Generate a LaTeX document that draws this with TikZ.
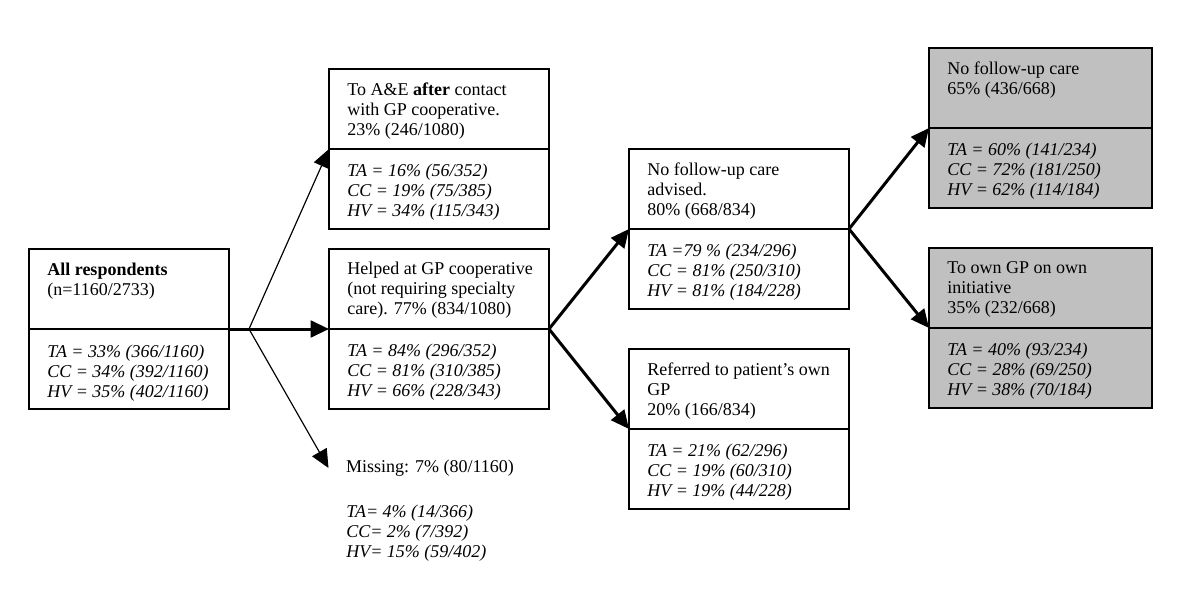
\documentclass[tikz,border=0pt]{standalone}
\usepackage{fontspec}
\setmainfont{Liberation Serif}
\usetikzlibrary{arrows.meta}
\definecolor{boxgray}{RGB}{192,192,192}
\begin{document}
\begin{tikzpicture}[x=0.6pt,y=-0.6pt,
  part/.style={draw, line width=1.6pt, rectangle, inner sep=0pt, outer sep=0pt, anchor=north west, minimum height=48pt},
  wA/.style={minimum width=120pt},
  wB/.style={minimum width=132pt},
  wC/.style={minimum width=133.8pt},
  shaded/.style={fill=boxgray},
  txt/.style={anchor=north west, inner sep=0pt, align=left, font=\fontsize{10.8}{12}\selectfont},
  itxt/.style={anchor=north west, inner sep=0pt, align=left, font=\fontsize{10.8}{12}\selectfont\itshape},
  thinarrow/.style={line width=0.7pt, -{Triangle[length=11pt,width=10pt]}},
  thickarrow/.style={line width=1.8pt, -{Triangle[length=11pt,width=10pt]}}
]
\useasboundingbox (0,0) rectangle (1200,599);

% All respondents
\node[part, wA] (b1u) at (29,249) {};
\node[part, wA] (b1l) at (b1u.south west) {};
\node[txt] (b1ut) at ([shift={(18,14)}]b1u.north west) {\textbf{All respondents}\\(n=1160/2733)};
\node[itxt] (b1lt) at ([shift={(18,16)}]b1l.north west) {TA = 33\% (366/1160)\\CC = 34\% (392/1160)\\HV = 35\% (402/1160)};

% To A&E
\node[part, wB] (aeu) at (329,69) {};
\node[part, wB] (ael) at (aeu.south west) {};
\node[txt] (aeut) at ([shift={(18,13)}]aeu.north west) {To A\&E \textbf{after} contact\\with GP cooperative.\\23\% (246/1080)};
\node[itxt] (aelt) at ([shift={(18,15)}]ael.north west) {TA = 16\% (56/352)\\CC = 19\% (75/385)\\HV = 34\% (115/343)};

% Helped
\node[part, wB] (hpu) at (329,249) {};
\node[part, wB] (hpl) at (hpu.south west) {};
\node[txt] (hput) at ([shift={(18,13)}]hpu.north west) {Helped at GP cooperative\\(not requiring specialty\\care). 77\% (834/1080)};
\node[itxt] (hplt) at ([shift={(18,15)}]hpl.north west) {TA = 84\% (296/352)\\CC = 81\% (310/385)\\HV = 66\% (228/343)};

% Missing
\node[txt, anchor=west, outer sep=10.5pt] (miss) at (328.5,468) {Missing: 7\% (80/1160)};
\node[itxt] (misst) at (346,505) {TA= 4\% (14/366)\\CC= 2\% (7/392)\\HV= 15\% (59/402)};

% No follow-up care advised
\node[part, wB] (nfu) at (629,149) {};
\node[part, wB] (nfl) at (nfu.south west) {};
\node[txt] (nfut) at ([shift={(18,13)}]nfu.north west) {No follow-up care\\advised.\\80\% (668/834)};
\node[itxt] (nflt) at ([shift={(18,15)}]nfl.north west) {TA =79 \% (234/296)\\CC = 81\% (250/310)\\HV = 81\% (184/228)};

% Referred
\node[part, wB] (rfu) at (629,349) {};
\node[part, wB] (rfl) at (rfu.south west) {};
\node[txt] (rfut) at ([shift={(18,13)}]rfu.north west) {Referred to patient’s own\\GP\\20\% (166/834)};
\node[itxt] (rflt) at ([shift={(18,15)}]rfl.north west) {TA = 21\% (62/296)\\CC = 19\% (60/310)\\HV = 19\% (44/228)};

% Gray: No follow-up care
\node[part, wC, shaded] (g1u) at (929,48) {};
\node[part, wC, shaded] (g1l) at (g1u.south west) {};
\node[txt] (g1ut) at ([shift={(18,13)}]g1u.north west) {No follow-up care\\65\% (436/668)};
\node[itxt] (g1lt) at ([shift={(18,15)}]g1l.north west) {TA = 60\% (141/234)\\CC = 72\% (181/250)\\HV = 62\% (114/184)};

% Gray: To own GP
\node[part, wC, shaded] (g2u) at (929,248) {};
\node[part, wC, shaded] (g2l) at (g2u.south west) {};
\node[txt] (g2ut) at ([shift={(18,13)}]g2u.north west) {To own GP on own\\initiative\\35\% (232/668)};
\node[itxt] (g2lt) at ([shift={(18,15)}]g2l.north west) {TA = 40\% (93/234)\\CC = 28\% (69/250)\\HV = 38\% (70/184)};

% connectors
\coordinate (j) at (249,329);
\draw[thickarrow] (b1u.south east) -- (hpu.south west);
\draw[thinarrow] (j) -- (aeu.south west);
\draw[thinarrow] (j) -- (miss.west);
\draw[thickarrow] (hpu.south east) -- (nfu.south west);
\draw[thickarrow] (hpu.south east) -- (rfu.south west);
\draw[thickarrow] (nfu.south east) -- (g1u.south west);
\draw[thickarrow] (nfu.south east) -- (g2u.south west);
\end{tikzpicture}
\end{document}
